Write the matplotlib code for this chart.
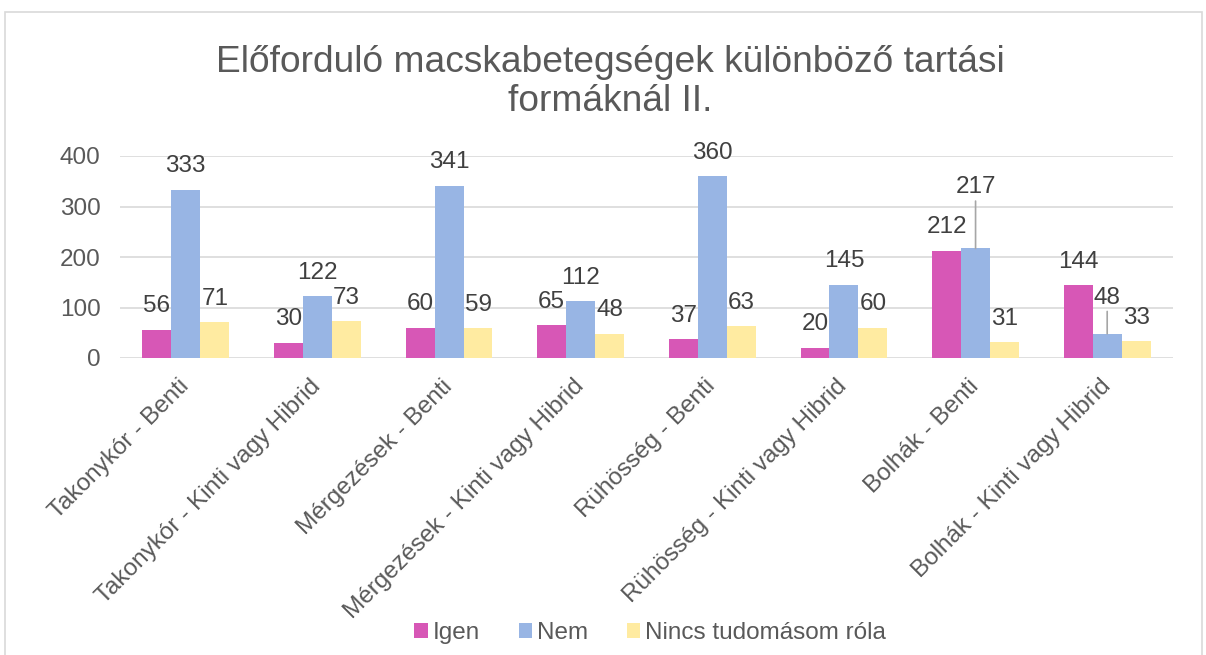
import numpy as np
import matplotlib.pyplot as plt
from matplotlib.patches import Rectangle

plt.rcParams['font.family'] = ['Liberation Sans', 'DejaVu Sans']

# adatok
categories = ['Takonykór - Benti', 'Takonykór - Kinti vagy Hibrid',
              'Mérgezések - Benti', 'Mérgezések - Kinti vagy Hibrid',
              'Rühösség - Benti', 'Rühösség - Kinti vagy Hibrid',
              'Bolhák - Benti', 'Bolhák - Kinti vagy Hibrid']
series_names = ['Igen', 'Nem', 'Nincs tudomásom róla']
igen = [56, 30, 60, 65, 37, 20, 212, 144]
nem = [333, 122, 341, 112, 360, 145, 217, 48]
nincs = [71, 73, 59, 48, 63, 60, 31, 33]

colors = ['#D757B6', '#98B5E4', '#FFEBA1']
text_col = '#595959'
fs = 17.5

# kézi címke-eltolás (pontban), ahol az Excel vezetővonalat rajzolt
nudge = {(1, 6): 27, (1, 7): 9}

fig = plt.figure(figsize=(12.06, 6.55), dpi=100)
ax = fig.add_axes([120 / 1206, 1 - 358 / 655, 1053 / 1206, 202 / 655])

x = np.arange(len(categories))
w = 0.22
for i, vals in enumerate([igen, nem, nincs]):
    pos = x + (i - 1) * w
    ax.bar(pos, vals, w, color=colors[i], label=series_names[i], zorder=3)
    for j, v in enumerate(vals):
        extra = nudge.get((i, j), 0)
        kw = {}
        if extra:
            kw['arrowprops'] = dict(arrowstyle='-', color='#a6a6a6', lw=1.2,
                                    shrinkA=0, shrinkB=0)
        ax.annotate(str(v), (pos[j], v), xytext=(0, 17 + extra),
                    textcoords='offset points', ha='center', va='center',
                    fontsize=fs, color='#404040', **kw)

ax.set_xlim(-0.5, len(categories) - 0.5)
ax.set_ylim(0, 400)
ax.set_yticks([0, 100, 200, 300, 400])
ax.grid(axis='y', color='#d9d9d9', lw=1.2, zorder=0)
for s in ax.spines.values():
    s.set_visible(False)
ax.tick_params(axis='y', length=0, pad=14, labelsize=fs, labelcolor=text_col)
ax.tick_params(axis='x', length=0, pad=18, labelsize=fs, labelcolor=text_col)
ax.set_xticks(x)
ax.set_xticklabels(categories, rotation=45, ha='right', va='center',
                   rotation_mode='anchor')

fig.text(610 / 1206, 1 - 82 / 655,
         'Előforduló macskabetegségek különböző tartási\nformáknál II.',
         ha='center', va='center', fontsize=26.7, color=text_col,
         linespacing=1.15)

fig.legend(loc='center', bbox_to_anchor=(650 / 1206, 1 - 633 / 655), ncol=3,
           frameon=False, fontsize=fs, labelcolor=text_col,
           handlelength=0.55, handleheight=0.55, handletextpad=0.2,
           columnspacing=1.6)

fig.patches.append(Rectangle((5 / 1206, -0.05), 1197 / 1206, 1.05 - 12 / 655,
                             transform=fig.transFigure, fill=False,
                             edgecolor='#d9d9d9', lw=1.2))

fig.savefig('out.png', dpi=100)
